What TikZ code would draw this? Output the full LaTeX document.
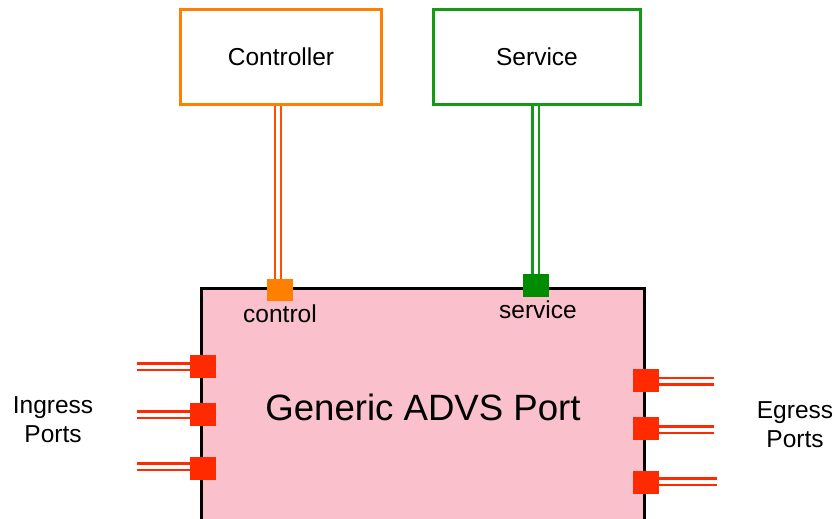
\documentclass[tikz,border=0pt]{standalone}
\usepackage{fontspec}
\setmainfont{Liberation Sans}
\definecolor{ctrlorange}{HTML}{FF8000}
\definecolor{wireorange}{HTML}{FF5000}
\definecolor{svcgreen}{HTML}{149A14}
\definecolor{portgreen}{HTML}{008C00}
\definecolor{portred}{HTML}{FF2A00}
\definecolor{boxpink}{HTML}{FAC0CB}
\tikzset{
  topbox/.style={draw, line width=3pt, fill=white, minimum width=201pt, minimum height=95pt, inner sep=0pt, font=\fontsize{24.5}{29}\selectfont},
  portsq/.style={rectangle, inner sep=0pt, minimum width=26pt, minimum height=23pt},
  wire/.style={line width=2.3pt, double=white, double distance=4pt},
  lbl/.style={inner sep=0pt, align=center, font=\fontsize{24.5}{29}\selectfont},
}
\begin{document}
\begin{tikzpicture}[x=1pt,y=-1pt]
\useasboundingbox (0,0) rectangle (836,519);
% main box
\node[draw=black, line width=3pt, fill=boxpink, minimum width=443pt, minimum height=300pt, anchor=north, inner sep=0pt] (main) at (422.5,287) {};
\node[lbl, font=\fontsize{36.6}{44}\selectfont] (title) at (423,407) {Generic ADVS Port};
% top boxes
\node[topbox, draw=ctrlorange] (controller) at (281,57) {Controller};
\node[topbox, draw=svcgreen, minimum width=207pt] (service) at (537,57) {Service};
% control / service ports
\node[portsq, fill=ctrlorange, minimum height=22pt] (cport) at (280,290) {};
\node[portsq, fill=portgreen] (sport) at (536,285.5) {};
\draw[wire, wireorange] ([xshift=-2pt]cport.north) -- ([xshift=-2pt]cport.north |- controller.south);
\draw[wire, svcgreen] ([xshift=-0.5pt]sport.north) -- ([xshift=-0.5pt]sport.north |- service.south);
\node[lbl] (clabel) at (280,314) {control};
\node[lbl] (slabel) at (538,310) {service};
% ingress ports
\node[portsq, fill=portred] (in1) at (203,366.5) {};
\node[portsq, fill=portred] (in2) at (203,414.5) {};
\node[portsq, fill=portred] (in3) at (203,468.5) {};
\coordinate (in1e) at (137,366.5);
\coordinate (in2e) at (137,414.5);
\coordinate (in3e) at (137,466.7);
\draw[wire, portred] (in1.west) -- (in1e);
\draw[wire, portred] (in2.west) -- (in2e);
\draw[wire, portred] (in3.west |- in3e) -- (in3e);
% egress ports
\node[portsq, fill=portred] (eg1) at (646,380.5) {};
\node[portsq, fill=portred] (eg2) at (646,428.5) {};
\node[portsq, fill=portred] (eg3) at (646,482.5) {};
\coordinate (eg1e) at (714,381.3);
\coordinate (eg2e) at (714,429.5);
\coordinate (eg3e) at (717,481.5);
\draw[wire, portred] (eg1.east |- eg1e) -- (eg1e);
\draw[wire, portred] (eg2.east |- eg2e) -- (eg2e);
\draw[wire, portred] (eg3.east |- eg3e) -- (eg3e);
% side labels
\node[lbl] (ingress) at (53,420) {Ingress\\Ports};
\node[lbl] (egress) at (795,425) {Egress\\Ports};
\end{tikzpicture}
\end{document}
